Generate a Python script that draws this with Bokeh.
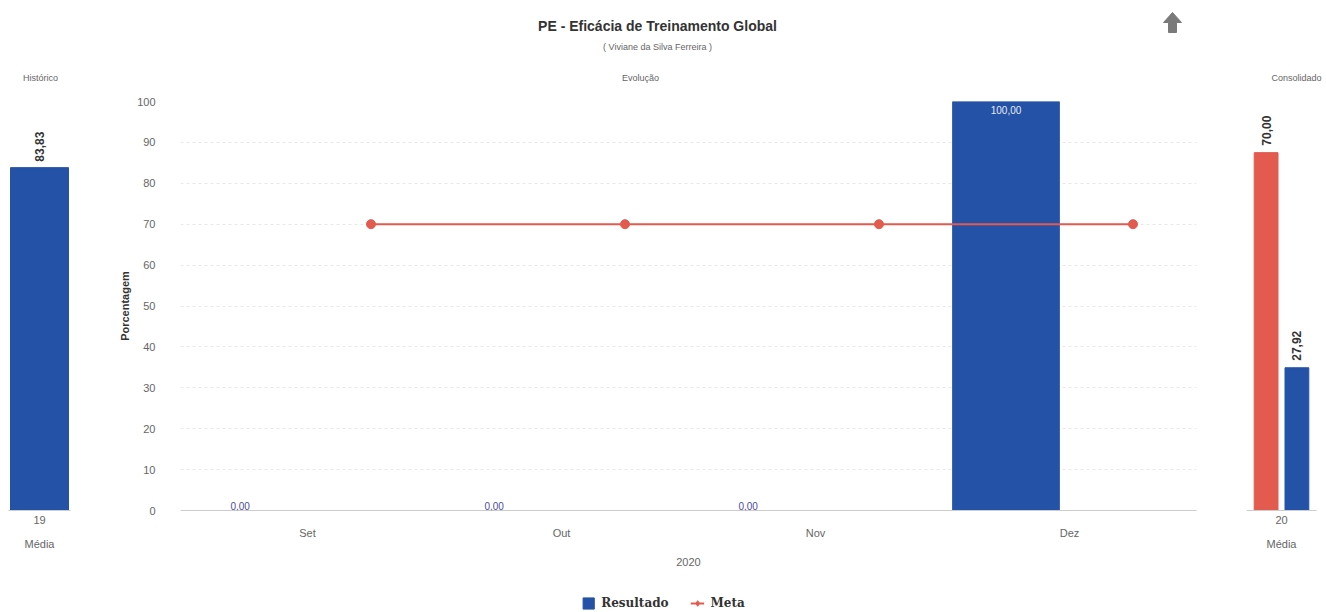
import math
from bokeh.plotting import figure
from bokeh.models import (ColumnDataSource, FactorRange, Range1d, LabelSet, Label,
                          Legend, LegendItem, FixedTicker)
from bokeh.layouts import column, row
from bokeh.transform import dodge
from bokeh.embed import file_html
from bokeh.resources import INLINE
from bokeh.core.properties import value

# ---------------- data ----------------
title_text = "PE - Eficácia de Treinamento Global"
subtitle_text = "( Viviane da Silva Ferreira )"
panel_titles = ["Histórico", "Evolução", "Consolidado"]
months = ["Set", "Out", "Nov", "Dez"]
resultado = [0.0, 0.0, 0.0, 100.0]
meta = [70.0, 70.0, 70.0, 70.0]
year_label = "2020"
y_label = "Porcentagem"
hist_cat = ["19"]
hist_val = [83.83]
cons_cat = ["20"]
cons_meta = [70.00]
cons_result = [27.92]
side_axis_label = "Média"
y_ticks = list(range(0, 101, 10))
legend_labels = ["Resultado", "Meta"]

BLUE = "#2452a6"
RED = "#e35a4f"
FONT = "Liberation Sans"
GRAY = "#666666"
DARK = "#333333"


def fmt(v):
    return f"{v:.2f}".replace(".", ",")


def base_fig(**kw):
    p = figure(toolbar_location=None, output_backend="svg", **kw)
    p.outline_line_color = None
    p.background_fill_color = "white"
    p.border_fill_color = "white"
    return p


# ---------------- header ----------------
HH = 88
hdr = base_fig(width=1326, height=HH, x_range=Range1d(0, 1326), y_range=Range1d(HH, 0),
               x_axis_type=None, y_axis_type=None, min_border=0)
hdr.grid.visible = False
hdr.add_layout(Label(x=657, y=25, text=title_text, text_align="center", text_baseline="middle",
                     text_font=FONT, text_font_style="bold", text_font_size="14px", text_color=DARK))
hdr.add_layout(Label(x=657, y=46, text=subtitle_text, text_align="center", text_baseline="middle",
                     text_font=FONT, text_font_size="9px", text_color=GRAY))
for tx, xx in zip(panel_titles, [40, 640, 1296]):
    hdr.add_layout(Label(x=xx, y=77, text=tx, text_align="center", text_baseline="middle",
                         text_font=FONT, text_font_size="9px", text_color=GRAY))
# export / "go up" icon
ax_c, ay_t = 1172, 12
hdr.patch([ax_c, ax_c + 9, ax_c + 4, ax_c + 4, ax_c - 4, ax_c - 4, ax_c - 9],
          [ay_t, ay_t + 10, ay_t + 10, ay_t + 20, ay_t + 20, ay_t + 10, ay_t + 10],
          color="#7a7a7a")

PH = 506
TOP = 13
BOT = 84

# ---------------- left panel (Histórico) ----------------
pl = base_fig(width=98, height=PH, x_range=FactorRange(*hist_cat), y_range=Range1d(0, 100),
              min_border_left=8, min_border_right=28, min_border_top=TOP, min_border_bottom=BOT,
              y_axis_location=None)
pl.grid.visible = False
hsrc = ColumnDataSource(dict(cat=hist_cat, val=hist_val, lab=[fmt(v) for v in hist_val]))
pl.vbar(x="cat", top="val", width=0.935, source=hsrc, color=BLUE)
pl.add_layout(LabelSet(x="cat", y="val", text="lab", source=hsrc, angle=math.pi / 2,
                       text_align="left", text_baseline="middle", y_offset=6,
                       text_font=value(FONT), text_font_style="bold", text_font_size="12px",
                       text_color=DARK))

# ---------------- main panel (Evolução) ----------------
pm = base_fig(width=1122, height=PH, x_range=FactorRange(*months), y_range=Range1d(0, 100),
              min_border_left=82, min_border_right=24, min_border_top=TOP, min_border_bottom=BOT)
msrc = ColumnDataSource(dict(mes=months, resultado=resultado, meta=meta))
pm.vbar(x=dodge("mes", -0.25, range=pm.x_range), top="resultado", width=0.42, source=msrc, color=BLUE)
pm.line(x=dodge("mes", 0.25, range=pm.x_range), y="meta", source=msrc, color=RED, line_width=2)
pm.scatter(x=dodge("mes", 0.25, range=pm.x_range), y="meta", source=msrc, color=RED, size=9)

lo = [i for i, v in enumerate(resultado) if v < 90]
hi = [i for i, v in enumerate(resultado) if v >= 90]
lo_src = ColumnDataSource(dict(mes=[months[i] for i in lo], v=[resultado[i] for i in lo],
                               lab=[fmt(resultado[i]) for i in lo]))
hi_src = ColumnDataSource(dict(mes=[months[i] for i in hi], v=[resultado[i] for i in hi],
                               lab=[fmt(resultado[i]) for i in hi]))
pm.add_layout(LabelSet(x=dodge("mes", -0.265, range=pm.x_range), y="v", text="lab", source=lo_src,
                       text_align="center", text_baseline="bottom", y_offset=1,
                       text_font=value(FONT), text_font_size="10px", text_color="#4b4ba0"))
pm.add_layout(LabelSet(x=dodge("mes", -0.25, range=pm.x_range), y="v", text="lab", source=hi_src,
                       text_align="center", text_baseline="top", y_offset=-4,
                       text_font=value(FONT), text_font_size="10px", text_color="#e6ecf6"))

pm.xgrid.visible = False
pm.ygrid.grid_line_color = "#e8e8e8"
pm.ygrid.grid_line_dash = "3 3"
pm.yaxis.ticker = FixedTicker(ticks=y_ticks)
pm.yaxis.axis_line_color = None
pm.yaxis.major_tick_line_color = None
pm.yaxis.minor_tick_line_color = None
pm.yaxis.major_tick_out = 0
pm.yaxis.major_label_standoff = 25
pm.yaxis.major_label_text_font = FONT
pm.yaxis.major_label_text_font_size = "11px"
pm.yaxis.major_label_text_color = GRAY
pm.yaxis.axis_label = y_label
pm.yaxis.axis_label_text_font = FONT
pm.yaxis.axis_label_text_font_style = "bold"
pm.yaxis.axis_label_text_font_size = "11px"
pm.yaxis.axis_label_text_color = DARK
pm.yaxis.axis_label_standoff = 3

pm.xaxis.axis_line_color = "#cccccc"
pm.xaxis.major_tick_line_color = None
pm.xaxis.major_tick_out = 0
pm.xaxis.major_label_standoff = 16
pm.xaxis.major_label_text_font = FONT
pm.xaxis.major_label_text_font_size = "11px"
pm.xaxis.major_label_text_color = GRAY
pm.xaxis.axis_label = year_label
pm.xaxis.axis_label_text_font = FONT
pm.xaxis.axis_label_text_font_style = "normal"
pm.xaxis.axis_label_text_font_size = "11px"
pm.xaxis.axis_label_text_color = GRAY
pm.xaxis.axis_label_standoff = 16

# ---------------- right panel (Consolidado) ----------------
pr = base_fig(width=106, height=PH, x_range=FactorRange(*cons_cat), y_range=Range1d(0, 80),
              min_border_left=26, min_border_right=10, min_border_top=TOP, min_border_bottom=BOT,
              y_axis_location=None)
pr.grid.visible = False
csrc = ColumnDataSource(dict(cat=cons_cat, meta=cons_meta, res=cons_result,
                             lm=[fmt(v) for v in cons_meta], lr=[fmt(v) for v in cons_result]))
pr.vbar(x=dodge("cat", -0.22, range=pr.x_range), top="meta", width=0.34, source=csrc, color=RED)
pr.vbar(x=dodge("cat", 0.22, range=pr.x_range), top="res", width=0.34, source=csrc, color=BLUE)
for fld, lab, off in [("meta", "lm", -0.22), ("res", "lr", 0.22)]:
    pr.add_layout(LabelSet(x=dodge("cat", off, range=pr.x_range), y=fld, text=lab, source=csrc,
                           angle=math.pi / 2, text_align="left", text_baseline="middle", y_offset=7,
                           text_font=value(FONT), text_font_style="bold", text_font_size="12px",
                           text_color=DARK))

for p in (pl, pr):
    ax = p.xaxis[0]
    ax.axis_line_color = "#cccccc"
    ax.major_tick_line_color = None
    ax.major_tick_out = 0
    ax.major_label_standoff = 5
    ax.major_label_text_font = FONT
    ax.major_label_text_font_size = "11px"
    ax.major_label_text_color = GRAY
    ax.axis_label = side_axis_label
    ax.axis_label_text_font = FONT
    ax.axis_label_text_font_style = "normal"
    ax.axis_label_text_font_size = "11px"
    ax.axis_label_text_color = GRAY
    ax.axis_label_standoff = 11

# ---------------- footer legend ----------------
ft = base_fig(width=1326, height=18, x_range=Range1d(0, 1), y_range=Range1d(0, 1),
              x_axis_type=None, y_axis_type=None, min_border=0)
ft.grid.visible = False
offscreen = ColumnDataSource(dict(x=[-10, -9], y=[-10, -10], x1=[-9, -8], y1=[-9, -9]))
r_res = ft.quad(left="x", right="x1", bottom="y", top="y1", source=offscreen, color=BLUE)
r_ml = ft.line("x", "y", source=offscreen, color=RED, line_width=2)
r_mp = ft.scatter("x", "y", source=offscreen, marker="diamond", size=11, color=RED)
leg = Legend(items=[LegendItem(label=legend_labels[0], renderers=[r_res], index=0),
                    LegendItem(label=legend_labels[1], renderers=[r_ml, r_mp], index=0)],
             orientation="horizontal", location="center", padding=0, margin=0, spacing=22,
             glyph_width=14, glyph_height=14, label_standoff=6,
             label_text_font="DejaVu Serif", label_text_font_style="bold",
             label_text_font_size="12px", label_text_color=DARK,
             border_line_color=None, background_fill_alpha=0)
ft.add_layout(leg, "center")

layout = column(hdr, row(pl, pm, pr), ft)
open("out.html", "w").write(file_html(layout, INLINE))
